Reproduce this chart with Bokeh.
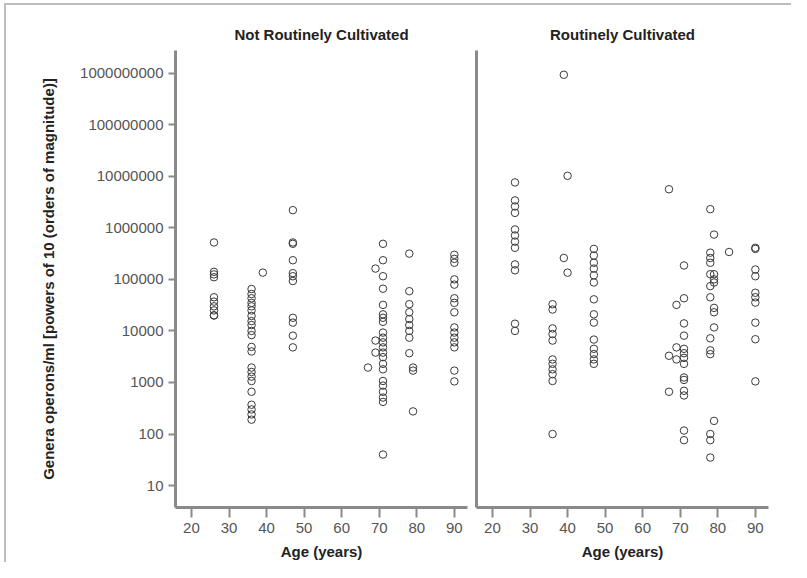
from bokeh.plotting import figure
from bokeh.layouts import row
from bokeh.models import FixedTicker, NumeralTickFormatter, Range1d
from bokeh.embed import file_html
from bokeh.resources import INLINE

panel_titles = ["Not Routinely Cultivated", "Routinely Cultivated"]
x_label = "Age (years)"
y_label = "Genera operons/ml [powers of 10 (orders of magnitude)]"
x_ticks = [20, 30, 40, 50, 60, 70, 80, 90]
y_ticks = [10, 100, 1000, 10000, 100000, 1000000, 10000000, 100000000, 1000000000]

# Not Routinely Cultivated
nrc_age = ([26] * 10 + [36] * 22 + [39] + [47] * 11 + [67] + [69] * 3 + [71] * 22
           + [78] * 9 + [79] * 3 + [90] * 15)
nrc_value = [
    520000, 140000, 125000, 110000, 45000, 37000, 30000, 25000, 20000, 20000,
    65000, 52000, 43000, 35000, 30000, 25000, 19500, 15500, 13000, 10000, 8300,
    4900, 4000, 1950, 1600, 1300, 1070, 660, 370, 300, 240, 190,
    135000,
    2200000, 520000, 490000, 235000, 132000, 115000, 93000, 18000, 14500, 8100, 4800,
    1950,
    162000, 6500, 3800,
    490000, 235000, 115000, 66000, 32000, 21000, 18000, 15000, 9300, 7400, 6000,
    4800, 3800, 3100, 2300, 1800, 1070, 870, 660, 510, 420, 40,
    316000, 59000, 33000, 23000, 17000, 13000, 10000, 7400, 3700,
    1950, 1700, 275,
    300000, 250000, 210000, 100000, 79000, 43000, 35000, 23000, 11700, 9300, 7400,
    6000, 4800, 1700, 1050,
]

# Routinely Cultivated
rc_age = ([26] * 12 + [36] * 11 + [39] * 2 + [40] * 2 + [47] * 14 + [67] * 3 + [69] * 3
          + [71] * 14 + [78] * 13 + [79] * 8 + [83] + [90] * 10)
rc_value = [
    7600000, 3400000, 2600000, 1950000, 930000, 710000, 540000, 410000, 195000, 150000,
    13800, 10000,
    33000, 26000, 11200, 8700, 6500, 2800, 2300, 1800, 1450, 1070, 100,
    930000000, 260000,
    10200000, 135000,
    390000, 290000, 210000, 162000, 120000, 87000, 41000, 21000, 14500, 6800, 4500,
    3550, 2800, 2300,
    5600000, 3300, 660,
    32000, 4800, 2800,
    186000, 43000, 14000, 8100, 4500, 3700, 3000, 2300, 1250, 1120, 690, 560, 117, 76,
    2300000, 330000, 260000, 210000, 126000, 74000, 45000, 7200, 4200, 3550, 100, 76, 35,
    740000, 126000, 100000, 87000, 28000, 23000, 11700, 180,
    340000,
    410000, 390000, 155000, 115000, 55000, 45000, 35500, 14500, 6900, 1050,
]

AXIS = "#8a8a8a"
FONT = "Liberation Sans"


def make_panel(title, ages, values, first):
    p = figure(
        width=465 if first else 320, height=557,
        output_backend="svg", toolbar_location=None, y_axis_type="log",
        x_range=Range1d(15.75, 93.5), y_range=Range1d(3.76, 2.75e9),
        min_border_left=169 if first else 5, min_border_right=4 if first else 23,
        min_border_top=45, min_border_bottom=53,
    )
    p.outline_line_color = None
    p.xgrid.visible = False
    p.ygrid.visible = False
    p.background_fill_color = "white"
    p.border_fill_color = "white"

    p.title.text = title
    p.title.align = "center"
    p.title.text_font = FONT
    p.title.text_font_size = "15px"
    p.title.text_font_style = "bold"
    p.title.text_color = "#222222"
    p.title.standoff = 16

    for ax in (p.xaxis[0], p.yaxis[0]):
        ax.axis_line_color = AXIS
        ax.axis_line_width = 3
        ax.major_tick_line_color = AXIS
        ax.major_tick_line_width = 2
        ax.minor_tick_line_color = None
        ax.major_tick_in = 0
        ax.major_label_text_font = FONT
        ax.major_label_text_font_size = "15px"
        ax.major_label_text_color = "#555555"
        ax.axis_label_text_font = FONT
        ax.axis_label_text_font_size = "15px"
        ax.axis_label_text_font_style = "bold"
        ax.axis_label_text_color = "#222222"

    p.xaxis.ticker = FixedTicker(ticks=x_ticks)
    p.xaxis.major_tick_out = 10
    p.xaxis.major_label_standoff = 5
    p.xaxis.axis_label = x_label
    p.xaxis.axis_label_standoff = 7

    if first:
        p.yaxis.ticker = FixedTicker(ticks=y_ticks)
        p.yaxis.formatter = NumeralTickFormatter(format="0")
        p.yaxis.major_tick_out = 7
        p.yaxis.major_label_standoff = 5
        p.yaxis.axis_label = y_label
        p.yaxis.axis_label_standoff = 20
    else:
        p.yaxis.ticker = FixedTicker(ticks=[])
        p.yaxis.major_tick_out = 0
        p.yaxis.major_label_text_font_size = "0px"

    p.scatter(ages, values, marker="circle", size=7.5, fill_color=None,
              line_color="#3a3a3a", line_width=1)
    return p


p1 = make_panel(panel_titles[0], nrc_age, nrc_value, True)
p2 = make_panel(panel_titles[1], rc_age, rc_value, False)
layout = row([p1, p2], styles={"border-top": "2px solid #bdbdbd",
                               "border-left": "2px solid #bdbdbd",
                               "margin-left": "4px", "margin-top": "3px"})

open("out.html", "w").write(file_html(layout, INLINE))
